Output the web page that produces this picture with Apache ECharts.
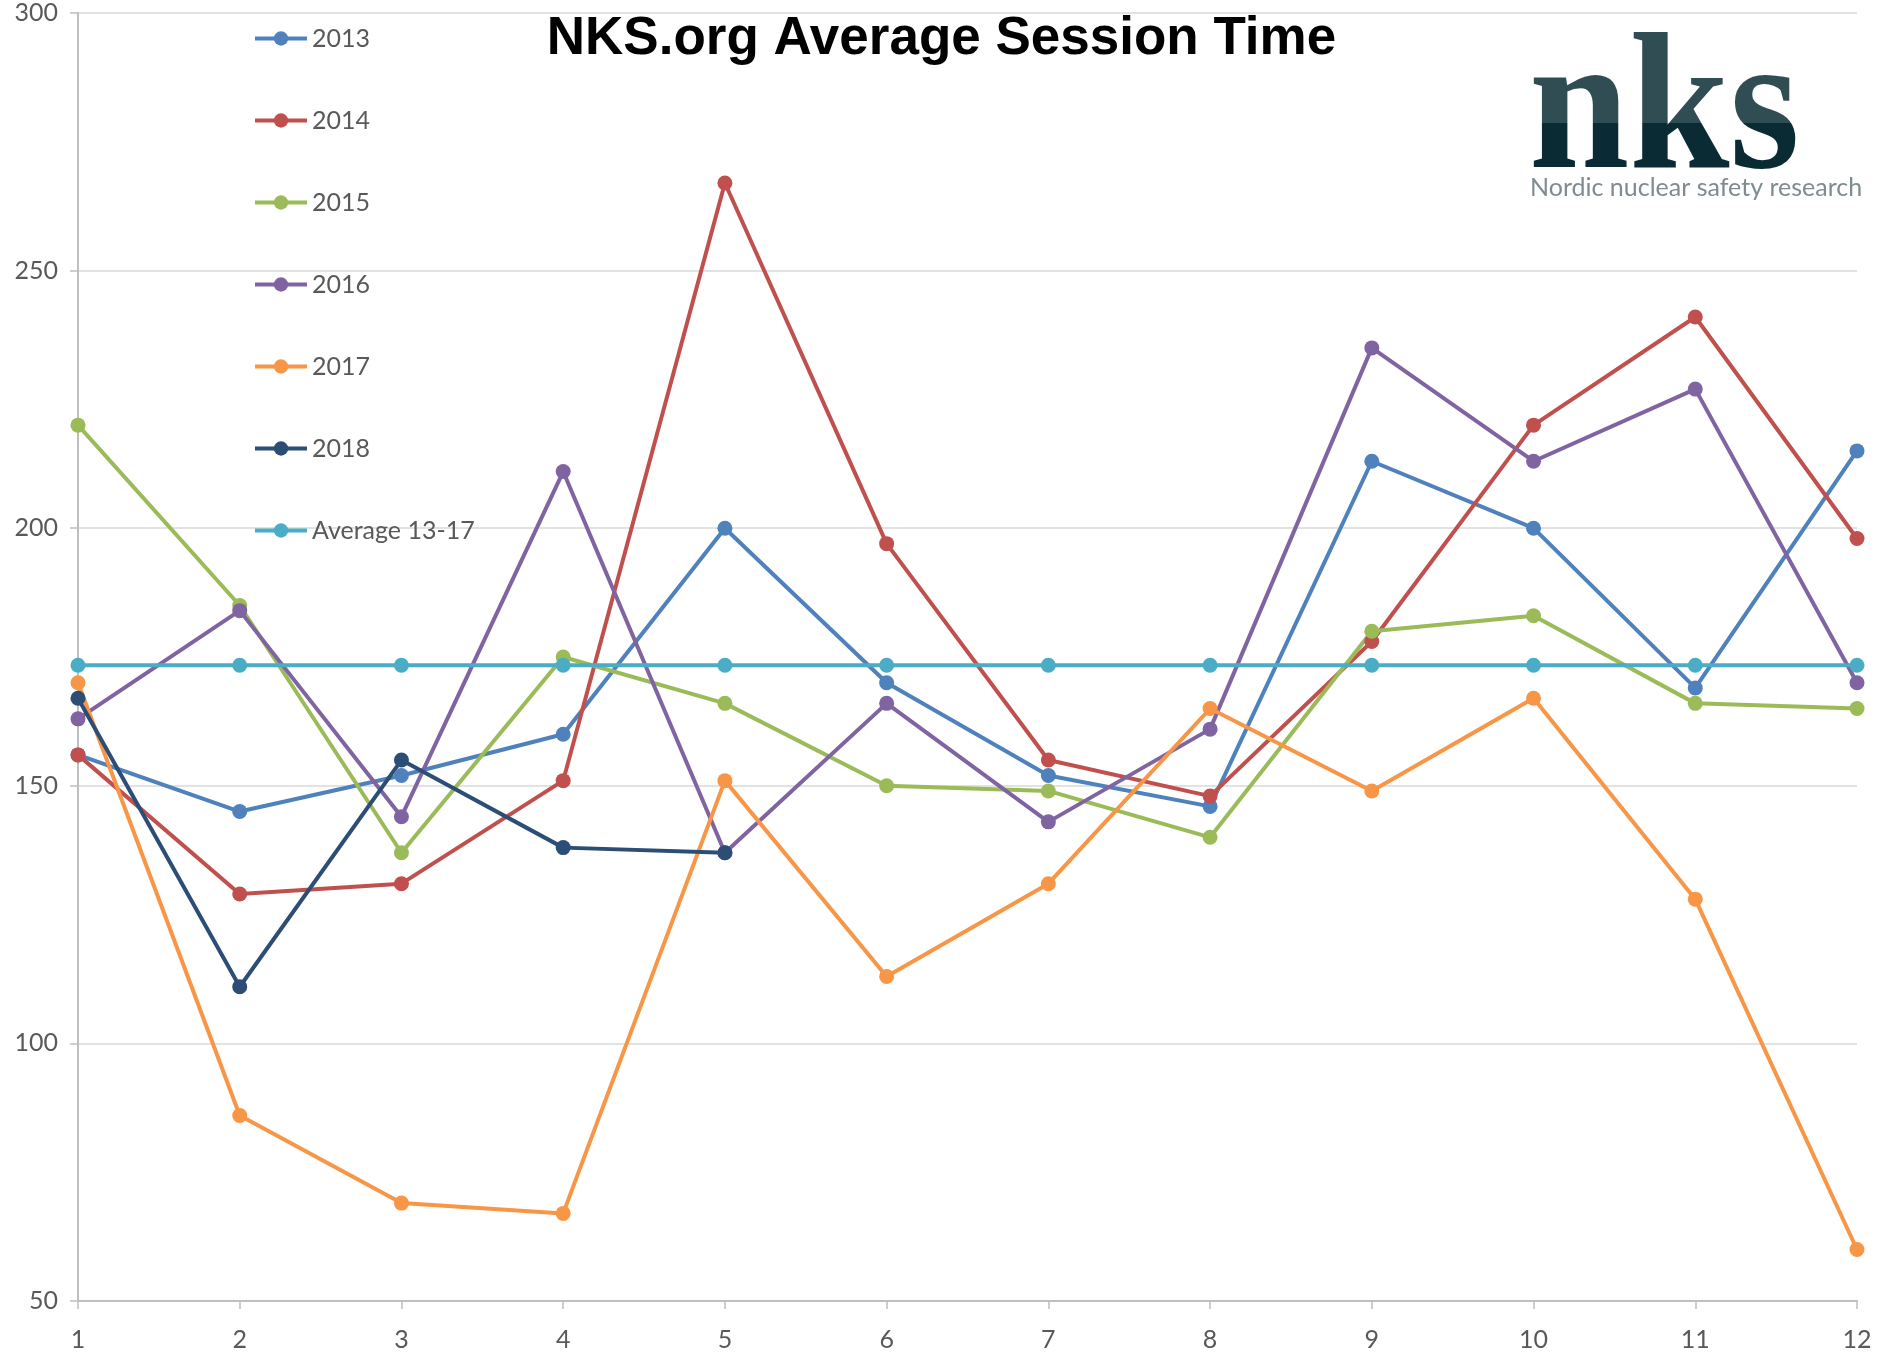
<!DOCTYPE html>
<html>
<head>
<meta charset="utf-8">
<script src="https://cdn.jsdelivr.net/npm/echarts@6/dist/echarts.min.js"></script>
<style>
html,body{margin:0;padding:0;background:#fff;}
#chart{width:1883px;height:1368px;}
</style>
</head>
<body>
<div id="chart"></div>
<script>
const months = ['1','2','3','4','5','6','7','8','9','10','11','12'];
const s2013 = [156,145,152,160,200,170,152,146,213,200,169,215];
const s2014 = [156,129,131,151,267,197,155,148,178,220,241,198];
const s2015 = [220,185,137,175,166,150,149,140,180,183,166,165];
const s2016 = [163,184,144,211,137,166,143,161,235,213,227,170];
const s2017 = [170,86,69,67,151,113,131,165,149,167,128,60];
const s2018 = [167,111,155,138,137,null,null,null,null,null,null,null];
const avg1317 = [173.4,173.4,173.4,173.4,173.4,173.4,173.4,173.4,173.4,173.4,173.4,173.4];

const names = ['2013','2014','2015','2016','2017','2018','Average 13-17'];
const colors = ['#4F81BD','#C0504D','#9BBB59','#8064A2','#F79646','#2C4D75','#4BACC6'];
const datasets = [s2013,s2014,s2015,s2016,s2017,s2018,avg1317];

const labelFont = 'Lato, "Open Sans", sans-serif';
const chart = echarts.init(document.getElementById('chart'));
chart.setOption({
  animation:false,
  backgroundColor:'#ffffff',
  title:{
    text:'NKS.org Average Session Time',
    left:'center', top:8,
    textStyle:{fontFamily:'"Liberation Sans", Arial, sans-serif',fontWeight:'bold',fontSize:53,color:'#000'}
  },
  legend:{
    orient:'vertical', left:248, top:21,
    itemWidth:52, itemHeight:18, itemGap:57,
    textStyle:{fontFamily:labelFont,fontSize:25,color:'#595959'},
    lineStyle:{width:4},
    data:names
  },
  grid:{left:78,right:26,top:13,bottom:67},
  xAxis:{
    type:'category', data:months, boundaryGap:false,
    axisLine:{lineStyle:{color:'#BFBFBF',width:2}},
    axisTick:{show:true,length:8,lineStyle:{color:'#BFBFBF',width:1.5}},
    axisLabel:{fontFamily:labelFont,fontSize:25,color:'#595959',margin:26}
  },
  yAxis:{
    type:'value', min:50, max:300, interval:50,
    axisLine:{show:true,lineStyle:{color:'#BFBFBF',width:2}},
    axisTick:{show:true,length:8,lineStyle:{color:'#BFBFBF',width:1.5}},
    splitLine:{lineStyle:{color:'#D9D9D9',width:1.5}},
    axisLabel:{fontFamily:labelFont,fontSize:25,color:'#595959',margin:20}
  },
  graphic:[
    {type:'text', left:1529, top:18, scaleX:0.92, z:10, style:{
      text:'nks', font:'bold 196px "Liberation Serif", "DejaVu Serif", serif',
      fill:'#0A2B34'
    }},
    {type:'rect', left:1520, top:16, z:11, shape:{width:300,height:107},
      style:{fill:'rgba(255,255,255,0.16)'}},
    {type:'text', left:1530, top:175, z:10, style:{
      text:'Nordic nuclear safety research', font:'25px Lato, "Open Sans", sans-serif', fill:'#7F8B90'
    }}
  ],
  series:datasets.map((d,i)=>({
    name:names[i], type:'line', data:d,
    symbol:'circle', symbolSize:15,
    lineStyle:{color:colors[i],width:4},
    itemStyle:{color:colors[i]},
    connectNulls:false
  }))
});
</script>
</body>
</html>
